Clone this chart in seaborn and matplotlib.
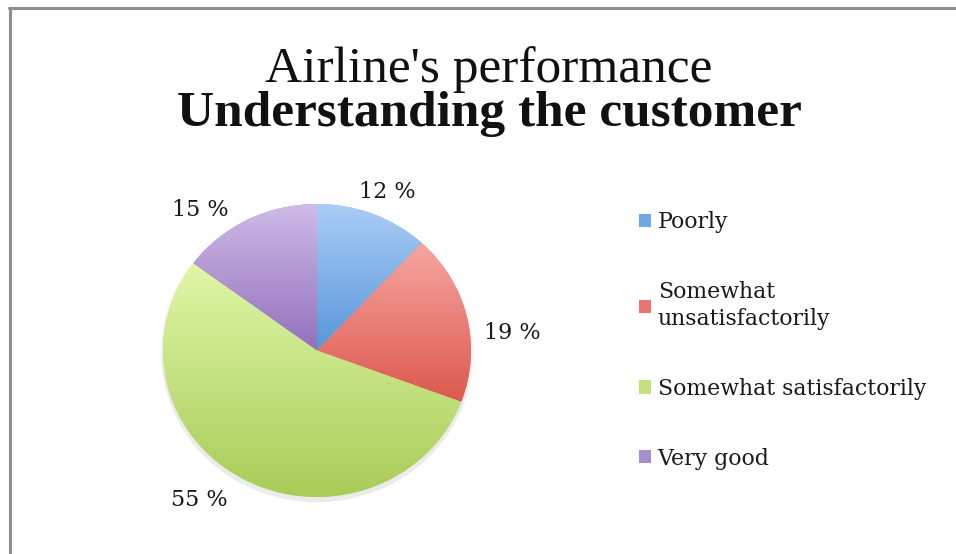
import numpy as np
import matplotlib
matplotlib.use("Agg")
import matplotlib.pyplot as plt
import seaborn as sns
from matplotlib.colors import LinearSegmentedColormap
from matplotlib.patches import Patch, Ellipse
from matplotlib.lines import Line2D

sns.set_style("white")
plt.rcParams["font.family"] = ["Liberation Serif", "DejaVu Serif"]

# data
categories = ["Poorly", "Somewhat\nunsatisfactorily", "Somewhat satisfactorily", "Very good"]
shares = [12, 19, 55, 15]
pct_labels = ["12 %", "19 %", "55 %", "15 %"]

# top / bottom shade of each wedge's gradient
top_colors = ["#abcdf6", "#f6a6a1", "#e0f7a8", "#cfbbe8"]
bottom_colors = ["#5796d8", "#dc584d", "#a8cc58", "#9270bb"]
mid_colors = ["#6fa8e6", "#e8766d", "#c4e07f", "#a88dcc"]

# pixel nudges (right, down) so the labels sit where Excel put them
label_nudge = [(2, 8), (13, 24), (-28, -8), (-32, 19)]


def main():
    fig = plt.figure(figsize=(9.56, 5.54), dpi=100)

    # chart frame (only top and left edges show)
    fig.add_artist(Line2D([9.5 / 956, 9.5 / 956], [0, 1 - 8 / 554],
                          transform=fig.transFigure, color="#8e8e8e", lw=2.2))
    fig.add_artist(Line2D([8.5 / 956, 1], [1 - 8 / 554, 1 - 8 / 554],
                          transform=fig.transFigure, color="#8e8e8e", lw=2.2))

    cx, cy, rx, ry = 317, 350.5, 154, 146.5
    lim = 1.4
    ax = fig.add_axes([(cx - lim * rx) / 956, (554 - cy - lim * ry) / 554,
                       2 * lim * rx / 956, 2 * lim * ry / 554])

    # soft shadow under the pie
    for i, a in enumerate([0.05, 0.05, 0.06]):
        ax.add_patch(Ellipse((0, -0.015 - 0.008 * i), 2.0 + 0.012 * (3 - i), 2.0 + 0.012 * (3 - i),
                             color="#888888", alpha=a, lw=0, zorder=0))

    wedges, texts = ax.pie(
        shares,
        labels=pct_labels,
        colors=mid_colors,
        startangle=90,
        counterclock=False,
        labeldistance=1.22,
        textprops={"fontsize": 16, "color": "#1a1a1a", "family": "DejaVu Serif"},
        wedgeprops={"linewidth": 0},
    )
    for t, (dx, dy) in zip(texts, label_nudge):
        x, y = t.get_position()
        t.set_position((x + dx / rx, y - dy / ry))
        t.set_ha("center")
        t.set_va("center")

    grad = np.linspace(0, 1, 256).reshape(-1, 1)
    for w, c0, c1 in zip(wedges, top_colors, bottom_colors):
        ext = w.get_path().get_extents()
        cmap = LinearSegmentedColormap.from_list("g", [c0, c1])
        im = ax.imshow(grad, cmap=cmap, aspect="auto", interpolation="bilinear",
                       extent=(ext.x0, ext.x1, ext.y0, ext.y1), origin="upper", zorder=2)
        im.set_clip_path(w)

    ax.set_aspect("auto")
    ax.set_xlim(-lim, lim)
    ax.set_ylim(-lim, lim)
    ax.axis("off")

    fig.text(489 / 956, 1 - 82 / 554, "Airline's performance", ha="center",
             va="baseline", fontsize=37, color="#111111")
    fig.text(489 / 956, 1 - 126 / 554, "Understanding the customer", ha="center",
             va="baseline", fontsize=37, fontweight="bold", color="#111111")

    handles = [Patch(facecolor=c, edgecolor="none") for c in mid_colors]
    leg = fig.legend(
        handles, categories,
        loc="upper left",
        bbox_to_anchor=(639 / 956, 1 - 211 / 554),
        frameon=False,
        prop={"family": "DejaVu Serif", "size": 15.8},
        handlelength=0.55,
        handleheight=0.55,
        handletextpad=0.3,
        labelspacing=2.18,
        borderpad=0,
        borderaxespad=0,
    )
    for t in leg.get_texts():
        t.set_color("#1a1a1a")
        t.set_linespacing(1.3)

    fig.savefig("out.png", dpi=100)
    plt.close(fig)


if __name__ == "__main__":
    main()
